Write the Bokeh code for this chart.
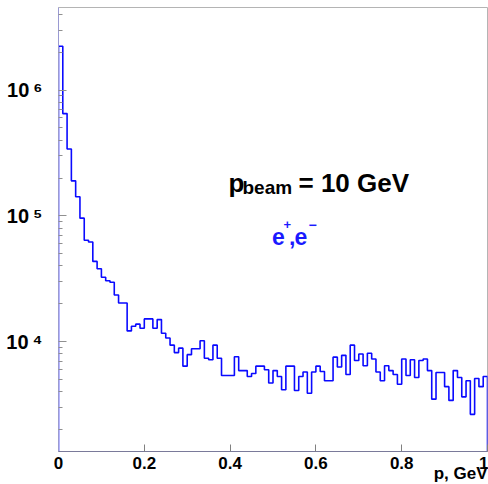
import numpy as np
from bokeh.plotting import figure
from bokeh.models import Range1d, FixedTicker, Label, CustomJSTickFormatter, Title
from bokeh.embed import file_html
from bokeh.resources import INLINE

# ---- data ----
bin_width = 0.01
counts = [
    2.23e6, 6.5e5, 3.4e5, 1.9e5, 1.42e5, 9.6e4, 6.4e4, 6.2e4, 4.35e4, 3.8e4,
    3.26e4, 3.05e4, 2.97e4, 2.35e4, 2.03e4, 2.03e4, 1.22e4, 1.33e4, 1.38e4, 1.28e4,
    1.52e4, 1.52e4, 1.28e4, 1.5e4, 1.17e4, 1.07e4, 9.4e3, 8.2e3, 8.9e3, 6.4e3,
    7.9e3, 8.8e3, 8.8e3, 1.02e4, 7.4e3, 7.2e3, 9.4e3, 7.4e3, 5.4e3, 5.4e3,
    5.4e3, 7.6e3, 5.9e3, 5.9e3, 5.3e3, 5.6e3, 6.4e3, 6.4e3, 6.0e3, 4.7e3,
    5.9e3, 5.3e3, 4.16e3, 6.4e3, 6.4e3, 4.1e3, 5.3e3, 5.75e3, 3.9e3, 5.75e3,
    6.4e3, 5.8e3, 4.9e3, 4.9e3, 7.55e3, 6.3e3, 7.8e3, 5.5e3, 9.4e3, 7.1e3,
    8.0e3, 6.45e3, 8.1e3, 7.3e3, 5.75e3, 4.9e3, 6.45e3, 5.9e3, 5.5e3, 4.6e3,
    7.3e3, 5.4e3, 7.2e3, 5.2e3, 7.1e3, 7.3e3, 5.9e3, 3.5e3, 5.7e3, 5.7e3,
    4.4e3, 3.42e3, 5.9e3, 5.2e3, 3.65e3, 4.9e3, 2.65e3, 5.1e3, 4.4e3, 5.3e3,
]
x_ticks = [0, 0.2, 0.4, 0.6, 0.8, 1.0]
x_tick_labels = ["0", "0.2", "0.4", "0.6", "0.8", "1"]
x_title = "p, GeV"
y_major = [1e4, 1e5, 1e6]
y_minor = [m * 10.0 ** k for k in range(3, 7) for m in range(2, 10) if m * 10.0 ** k < 4.6e6]
x_min, x_max = 0.0, 1.0
y_min, y_max = 1343.0, 4.53e6

# ---- histogram outline built from the bins ----
edges = np.arange(len(counts) + 1) * bin_width
xs = [edges[0]]
ys = [y_min]
for i, c in enumerate(counts):
    xs += [edges[i], edges[i + 1]]
    ys += [c, c]
xs.append(edges[-1])
ys.append(y_min)

FONT = "Liberation Sans"

p = figure(width=488, height=484, x_range=Range1d(x_min, x_max), y_range=Range1d(y_min, y_max),
           y_axis_type="log", output_backend="svg", toolbar_location=None,
           min_border_left=58, min_border_right=1, min_border_top=7, min_border_bottom=33)
p.background_fill_color = "white"
p.border_fill_color = "white"
p.outline_line_color = "#b4b4b4"
p.xgrid.visible = False
p.ygrid.visible = False

p.line(xs, ys, line_color="#0a0aff", line_width=1.6)

# x axis
xa = p.xaxis[0]
xa.ticker = FixedTicker(ticks=x_ticks, minor_ticks=[])
xa.major_label_overrides = {t: l for t, l in zip(x_ticks, x_tick_labels)}
xa.major_label_text_font = FONT
xa.major_label_text_font_style = "bold"
xa.major_label_text_font_size = "17px"
xa.major_label_text_color = "black"
xa.major_label_standoff = 5
xa.major_tick_in = 7
xa.major_tick_out = 0
xa.major_tick_line_color = "#808080"
xa.axis_line_color = "#7a7a9a"

# x axis title, right aligned under the axis
p.add_layout(Title(text=x_title, align="right", vertical_align="top", standoff=-15, offset=0,
                   text_font=FONT, text_font_style="bold", text_font_size="17px",
                   text_color="black"), "below")

# y axis
ya = p.yaxis[0]
ya.ticker = FixedTicker(ticks=y_major, minor_ticks=y_minor)
ya.formatter = CustomJSTickFormatter(code="""
const sup = {"0":"\u2070","1":"\u00b9","2":"\u00b2","3":"\u00b3","4":"\u2074",
             "5":"\u2075","6":"\u2076","7":"\u2077","8":"\u2078","9":"\u2079"};
const e = Math.round(Math.log10(tick)).toString();
return "10\u2009" + e.split("").map(c => sup[c]).join("");
""")
ya.major_label_text_font = FONT
ya.major_label_text_font_style = "bold"
ya.major_label_text_font_size = "20px"
ya.major_label_text_color = "black"
ya.major_label_standoff = 16
ya.major_tick_in = 8
ya.major_tick_out = 0
ya.minor_tick_in = 4
ya.minor_tick_out = 0
ya.major_tick_line_color = "#909090"
ya.minor_tick_line_color = "#909090"
ya.axis_line_color = "#9a9ad2"

def lab(x, y, t, size, color="black"):
    p.add_layout(Label(x=x, y=y, x_units="screen", y_units="screen", text=t,
                       text_font=FONT, text_font_style="bold", text_font_size=size,
                       text_baseline="alphabetic", text_align="left", text_color=color))

# p_beam = 10 GeV
lab(170, 269, "p", "26px")
lab(184, 264, "beam", "19px")
lab(240, 269, "= 10 GeV", "26px")
# e+,e-
blue = "#1a1aff"
lab(213.5, 215, "e", "23px", blue)
lab(225, 227, "+", "13px", blue)
lab(230.5, 215, ",", "23px", blue)
lab(236, 215, "e", "23px", blue)
lab(250, 227, "\u2212", "14px", blue)

open("out.html", "w", encoding="utf-8").write(file_html(p, INLINE))
